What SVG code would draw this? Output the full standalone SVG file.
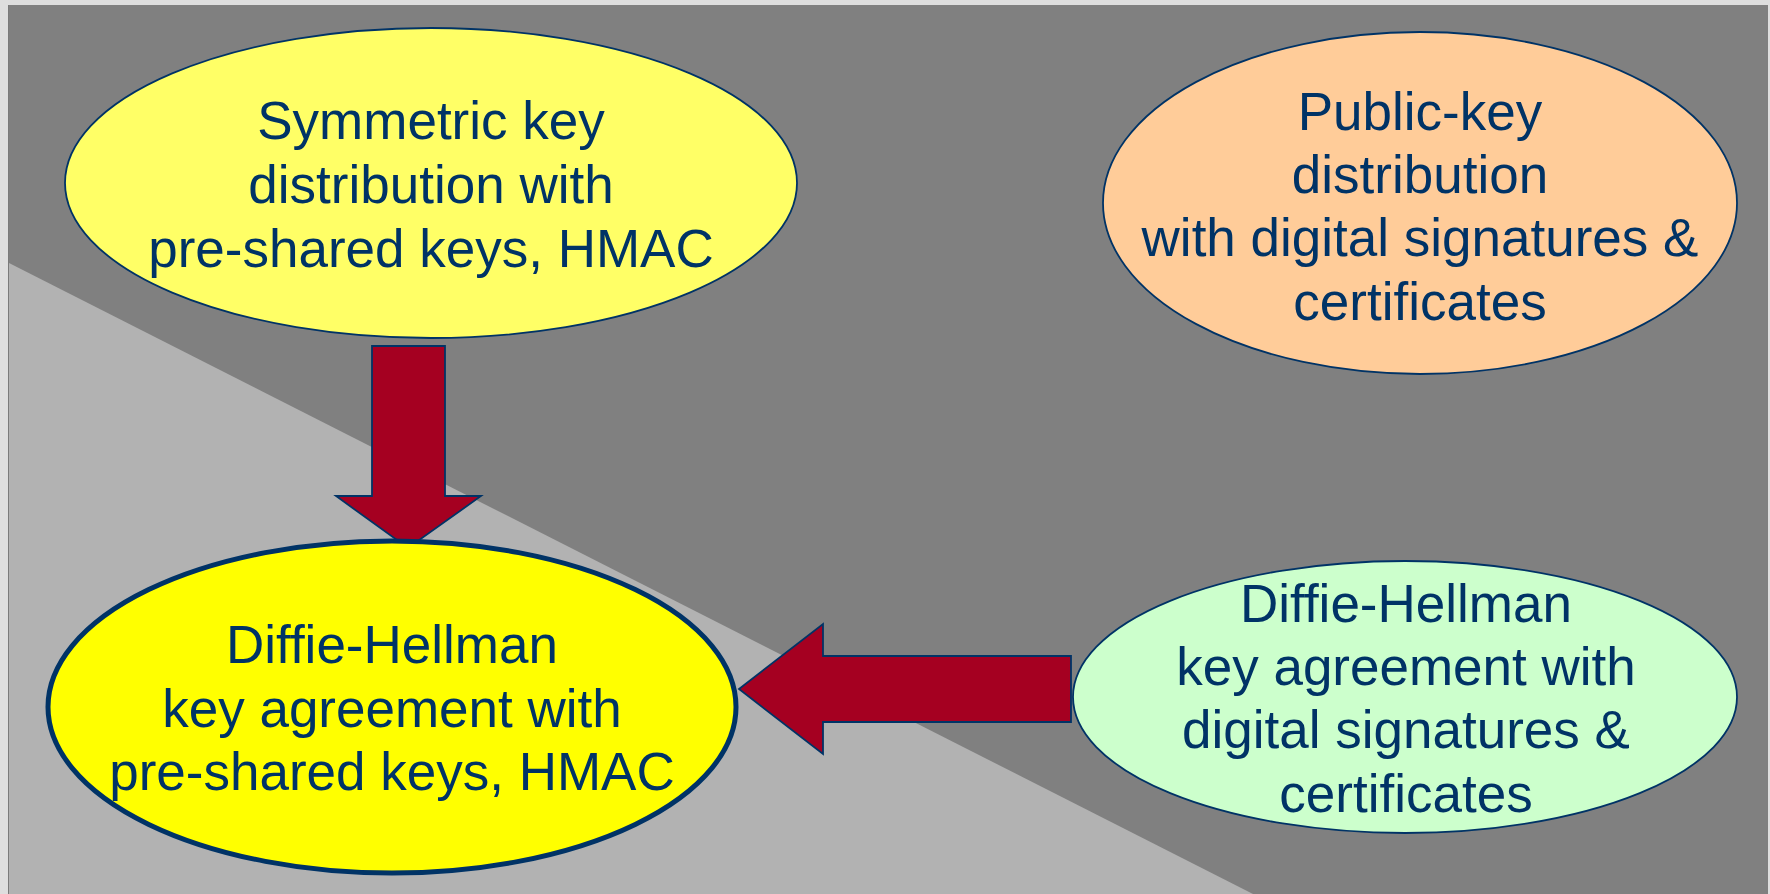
<svg xmlns="http://www.w3.org/2000/svg" width="1770" height="894" viewBox="0 0 1770 894">
  <style>
    .lbl { font-family: "Liberation Sans", Arial, sans-serif; font-size: 53px; fill: #003366; text-anchor: middle; }
    .node { stroke: #003366; stroke-width: 1.8; }
    .arrow { fill: #a50021; stroke: #003366; stroke-width: 1.8; stroke-linejoin: miter; }
  </style>
  <rect x="0" y="0" width="1770" height="894" fill="#dedede"/>
  <rect x="8" y="5" width="1760" height="889" fill="#808080"/>
  <polygon points="9,263 1253,894 9,894" fill="#b2b2b2"/>
  <line x1="8.5" y1="5" x2="8.5" y2="894" stroke="#7a7a7a" stroke-width="1"/>

  <g id="connectors">
    <polygon class="arrow" points="372,346 445,346 445,496 481,496 408,548 336,496 372,496"/>
    <polygon class="arrow" points="1071,656 1071,722 823,722 823,754 739,689 823,624 823,656"/>
  </g>

  <g id="symmetric">
    <ellipse class="node" cx="431" cy="183" rx="366" ry="155" fill="#ffff66"/>
    <text class="lbl" x="431" y="139">Symmetric key</text>
    <text class="lbl" x="431" y="203">distribution with</text>
    <text class="lbl" x="431" y="267">pre-shared keys, HMAC</text>
  </g>

  <g id="publickey">
    <ellipse class="node" cx="1420" cy="203" rx="317" ry="171" fill="#ffcc99"/>
    <text class="lbl" x="1420" y="130">Public-key</text>
    <text class="lbl" x="1420" y="193">distribution</text>
    <text class="lbl" x="1420" y="256">with digital signatures &amp;</text>
    <text class="lbl" x="1420" y="320">certificates</text>
  </g>

  <g id="dh-psk">
    <ellipse cx="392" cy="707" rx="344" ry="166" fill="#ffff00" stroke="#003366" stroke-width="5"/>
    <text class="lbl" x="392" y="663">Diffie-Hellman</text>
    <text class="lbl" x="392" y="727">key agreement with</text>
    <text class="lbl" x="392" y="790">pre-shared keys, HMAC</text>
  </g>

  <g id="dh-cert">
    <ellipse class="node" cx="1405" cy="697" rx="332" ry="136" fill="#ccffcc"/>
    <text class="lbl" x="1406" y="622">Diffie-Hellman</text>
    <text class="lbl" x="1406" y="685">key agreement with</text>
    <text class="lbl" x="1406" y="748">digital signatures &amp;</text>
    <text class="lbl" x="1406" y="812">certificates</text>
  </g>
</svg>
